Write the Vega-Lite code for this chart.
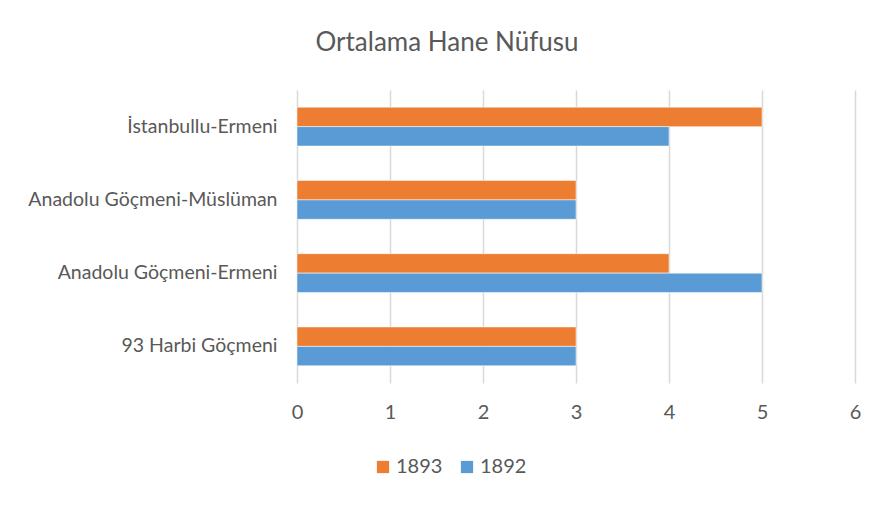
{
  "$schema": "https://vega.github.io/schema/vega-lite/v6.json",
  "width": 558,
  "height": 293,
  "autosize": {"type": "none"},
  "padding": {"left": 297, "top": 90, "right": 31, "bottom": 124},
  "background": "white",
  "title": {
    "text": "Ortalama Hane Nüfusu",
    "anchor": "middle",
    "frame": "group",
    "dx": -129,
    "offset": 34,
    "font": "Lato",
    "fontSize": 26,
    "fontWeight": "normal",
    "color": "#595959"
  },
  "data": {
    "values": [
      {"Category": "İstanbullu-Ermeni", "Year": "1893", "Value": 5},
      {"Category": "İstanbullu-Ermeni", "Year": "1892", "Value": 4},
      {"Category": "Anadolu Göçmeni-Müslüman", "Year": "1893", "Value": 3},
      {"Category": "Anadolu Göçmeni-Müslüman", "Year": "1892", "Value": 3},
      {"Category": "Anadolu Göçmeni-Ermeni", "Year": "1893", "Value": 4},
      {"Category": "Anadolu Göçmeni-Ermeni", "Year": "1892", "Value": 5},
      {"Category": "93 Harbi Göçmeni", "Year": "1893", "Value": 3},
      {"Category": "93 Harbi Göçmeni", "Year": "1892", "Value": 3}
    ]
  },
  "mark": {"type": "bar", "stroke": "white", "strokeWidth": 0.5},
  "encoding": {
    "y": {
      "field": "Category",
      "type": "nominal",
      "sort": ["İstanbullu-Ermeni", "Anadolu Göçmeni-Müslüman", "Anadolu Göçmeni-Ermeni", "93 Harbi Göçmeni"],
      "scale": {"paddingInner": 0.47, "paddingOuter": 0.235},
      "axis": {
        "title": null,
        "ticks": false,
        "domain": false,
        "labelFont": "Lato",
        "labelFontSize": 19.5,
        "labelColor": "#595959",
        "labelPadding": 20,
        "labelLimit": 400
      }
    },
    "yOffset": {
      "field": "Year",
      "type": "nominal",
      "sort": ["1893", "1892"]
    },
    "x": {
      "field": "Value",
      "type": "quantitative",
      "scale": {"domain": [0, 6], "nice": false},
      "axis": {
        "title": null,
        "values": [0, 1, 2, 3, 4, 5, 6],
        "grid": true,
        "gridColor": "#d9d9d9",
        "gridWidth": 1.5,
        "domain": false,
        "ticks": false,
        "labelFlush": false,
        "labelFont": "Lato",
        "labelFontSize": 20,
        "labelColor": "#595959",
        "labelPadding": 19
      }
    },
    "color": {
      "field": "Year",
      "type": "nominal",
      "scale": {"domain": ["1893", "1892"], "range": ["#ED7D31", "#5B9BD5"]},
      "legend": {
        "title": null,
        "orient": "none",
        "direction": "horizontal",
        "legendX": 76,
        "legendY": 367,
        "symbolType": "square",
        "symbolSize": 150,
        "symbolStrokeWidth": 0,
        "labelFont": "Lato",
        "labelFontSize": 20,
        "labelColor": "#595959",
        "columnPadding": 14,
        "labelOffset": 3
      }
    }
  },
  "config": {"view": {"stroke": null}}
}
